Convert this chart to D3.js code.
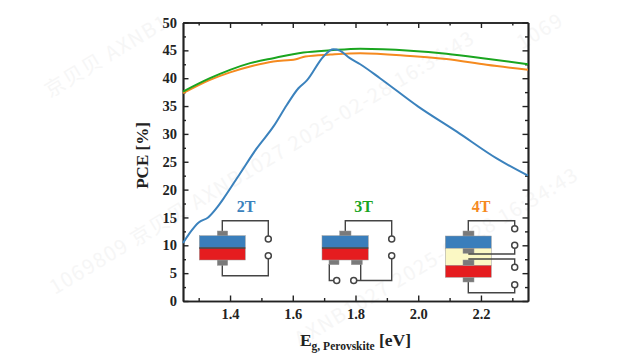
<!DOCTYPE html>
<html>
<head>
<meta charset="utf-8">
<script src="https://cdn.jsdelivr.net/npm/d3@7"></script>
<style>
  body { margin: 0; background: #fff; }
  text { font-family: "Liberation Serif", serif; font-weight: bold; fill: #222; }
</style>
</head>
<body>
<div id="chart"></div>
<script>
const bandgap2T = [1.25, 1.27, 1.30, 1.33, 1.36, 1.378, 1.432, 1.485, 1.538, 1.581, 1.618, 1.645, 1.698, 1.729, 1.75, 1.782, 1.815, 1.878, 2.0, 2.123, 2.25, 2.35];
const pce2T = [10.4, 12.1, 14.1, 15.0, 16.9, 18.3, 22.9, 27.4, 31.3, 35.2, 38.2, 39.6, 43.9, 45.2, 44.95, 43.6, 42.5, 40.0, 34.9, 30.4, 25.6, 22.5];
const bandgap3T = [1.25, 1.336, 1.40, 1.464, 1.538, 1.634, 1.72, 1.815, 1.974, 2.09, 2.218, 2.35];
const pce3T = [37.6, 40.0, 41.5, 42.7, 43.6, 44.6, 45.0, 45.3, 44.95, 44.4, 43.5, 42.5];
const bandgap4T = [1.25, 1.336, 1.40, 1.464, 1.538, 1.61, 1.64, 1.72, 1.815, 1.974, 2.09, 2.218, 2.35];
const pce4T = [37.3, 39.7, 41.05, 42.1, 43.0, 43.4, 43.9, 44.25, 44.5, 44.0, 43.45, 42.4, 41.5];
const xTicks = [1.4, 1.6, 1.8, 2.0, 2.2];
const xMinorTicks = [1.3, 1.5, 1.7, 1.9, 2.1, 2.3];
const yTicks = [0, 5, 10, 15, 20, 25, 30, 35, 40, 45, 50];
const yMinorTicks = [2.5, 7.5, 12.5, 17.5, 22.5, 27.5, 32.5, 37.5, 42.5, 47.5];

const width = 640, height = 360;
const plotLeft = 183, plotRight = 528, plotTop = 22.5, plotBottom = 301;

const svg = d3.select("#chart").append("svg")
    .attr("width", width)
    .attr("height", height)
    .style("display", "block");

const x = d3.scaleLinear().domain([1.25, 2.35]).range([plotLeft, plotRight]);
const y = d3.scaleLinear().domain([0, 50]).range([plotBottom, plotTop]);

// faint watermark behind everything
const marks = [
    [50, 98, "京贝贝 AXNB1"],
    [55, 295, "1069809 京贝贝 AXNB1027 2025-02-28 16:34:43"],
    [300, 347, "AXNB1027 2025-02-28 16:34:43"],
    [522, 50, "1069"]
];
svg.selectAll("text.wm")
    .data(marks)
    .enter()
    .append("text")
    .attr("class", "wm")
    .attr("transform", d => `translate(${d[0]},${d[1]}) rotate(-31)`)
    .attr("font-size", 20)
    .attr("letter-spacing", 1.5)
    .style("font-family", "'Noto Sans CJK SC', sans-serif")
    .style("font-weight", "normal")
    .style("fill", "#f6f6f6")
    .text(d => d[2]);

// axes: inward ticks on all four sides
function styleAxis(g) {
    g.selectAll("path").attr("stroke", "#222").attr("stroke-width", 1.7);
    g.selectAll("line").attr("stroke", "#222").attr("stroke-width", 1.4);
    g.selectAll("text").attr("font-size", 14.5).attr("fill", "#222")
        .style("font-family", "'Liberation Serif', serif").style("font-weight", "bold");
}
const axes = [
    [d3.axisBottom(x), `translate(0,${plotBottom})`, xTicks, xMinorTicks, d3.format(".1f"), 8],
    [d3.axisTop(x), `translate(0,${plotTop})`, xTicks, xMinorTicks, () => "", 8],
    [d3.axisLeft(y), `translate(${plotLeft},0)`, yTicks, yMinorTicks, d3.format("d"), 6],
    [d3.axisRight(y), `translate(${plotRight},0)`, yTicks, yMinorTicks, () => "", 6]
];
axes.forEach(([axis, tr, major, minor, fmt, pad]) => {
    svg.append("g").attr("transform", tr)
        .call(axis.tickValues(minor).tickSizeInner(-3).tickSizeOuter(0).tickFormat(() => ""))
        .call(styleAxis);
    svg.append("g").attr("transform", tr)
        .call(axis.tickValues(major).tickSizeInner(-5.5).tickSizeOuter(0).tickPadding(pad).tickFormat(fmt))
        .call(styleAxis);
});

// curves
const line = d3.line().x(d => x(d[0])).y(d => y(d[1])).curve(d3.curveMonotoneX);
const curves = [
    [bandgap4T, pce4T, "#f58a1f"],
    [bandgap3T, pce3T, "#1aa51f"],
    [bandgap2T, pce2T, "#3b82bd"]
];
curves.forEach(([xs, ys, color]) => {
    svg.append("path")
        .datum(d3.zip(xs, ys))
        .attr("fill", "none")
        .attr("stroke", color)
        .attr("stroke-width", 2)
        .attr("d", line);
});

// axis titles
svg.append("text")
    .attr("transform", "translate(148,155.5) rotate(-90)")
    .attr("text-anchor", "middle")
    .attr("font-size", 17)
    .text("PCE [%]");

const xTitle = svg.append("text")
    .attr("x", 355.5)
    .attr("y", 346)
    .attr("text-anchor", "middle")
    .attr("font-size", 17.5);
xTitle.append("tspan").text("E");
xTitle.append("tspan").attr("dy", 4).attr("font-size", 11.5).text("g, Perovskite");
xTitle.append("tspan").attr("dy", -4).text(" [eV]");

// device sketches
const wireColor = "#444", contactColor = "#7a7a7a";
function box(x0, y0, x1, y1, fill) {
    svg.append("rect")
        .attr("x", x0).attr("y", y0)
        .attr("width", x1 - x0).attr("height", y1 - y0)
        .attr("fill", fill)
        .attr("stroke", "#999")
        .attr("stroke-width", 0.5);
}
function wire(points) {
    svg.append("path")
        .attr("d", d3.line()(points))
        .attr("fill", "none")
        .attr("stroke", wireColor)
        .attr("stroke-width", 1.4);
}
function terminal(cx, cy) {
    svg.append("circle")
        .attr("cx", cx).attr("cy", cy).attr("r", 3)
        .attr("fill", "#fff")
        .attr("stroke", wireColor)
        .attr("stroke-width", 1.5);
}
function label(cx, txt, color) {
    svg.append("text")
        .attr("x", cx).attr("y", 211.5)
        .attr("text-anchor", "middle")
        .attr("font-size", 16)
        .style("fill", color)
        .text(txt);
}

// 2T
label(246, "2T", "#3b82bd");
wire([[222.3, 232], [222.3, 220.7], [268.3, 220.7], [268.3, 236]]);
wire([[268.3, 258], [268.3, 275.7], [222.3, 275.7], [222.3, 264]]);
box(217.3, 231, 227.7, 236, contactColor);
box(217.3, 260, 227.7, 265.3, contactColor);
box(199.3, 235.7, 245.3, 248, "#3a7ebb");
box(199.3, 248, 245.3, 260, "#e51c1f");
wire([[199.3, 248], [245.3, 248]]);
terminal(268.3, 239);
terminal(268.3, 255.7);

// 3T
label(363.5, "3T", "#1aa51f");
wire([[345.3, 232], [345.3, 220.7], [391.7, 220.7], [391.7, 236]]);
wire([[391.7, 258], [391.7, 280.5], [356.5, 280.5]]);
wire([[360.7, 264], [360.7, 280.5]]);
wire([[329.3, 264], [329.3, 280.5], [334, 280.5]]);
box(339.7, 231, 351, 236, contactColor);
box(329, 260, 339, 264.7, contactColor);
box(351.3, 260, 362.3, 264.7, contactColor);
box(322, 235.7, 368.3, 248, "#3a7ebb");
box(322, 248, 368.3, 260, "#e51c1f");
wire([[322, 248], [368.3, 248]]);
terminal(391.7, 239);
terminal(391.7, 255.7);
terminal(336.7, 280.5);
terminal(353.7, 280.5);

// 4T
label(481, "4T", "#f58a1f");
wire([[468.3, 232], [468.3, 220.7], [514.7, 220.7], [514.7, 226]]);
wire([[468.3, 279], [468.3, 292.7], [514.7, 292.7], [514.7, 287]]);
box(463, 231, 474, 236, contactColor);
box(463, 277.3, 474, 282, contactColor);
box(445.3, 236, 491.3, 248.3, "#3a7ebb");
box(445.3, 248.3, 491.3, 265.3, "#fbf8c4");
box(445.3, 265.3, 491.3, 277.3, "#e51c1f");
box(463, 248.3, 474, 253.3, contactColor);
box(463, 260, 474, 265.3, contactColor);
wire([[468.3, 254], [514.7, 254], [514.7, 248]]);
wire([[468.3, 259], [514.7, 259], [514.7, 264]]);
terminal(514.7, 228.7);
terminal(514.7, 245.3);
terminal(514.7, 267.3);
terminal(514.7, 284.7);
</script>
</body>
</html>
